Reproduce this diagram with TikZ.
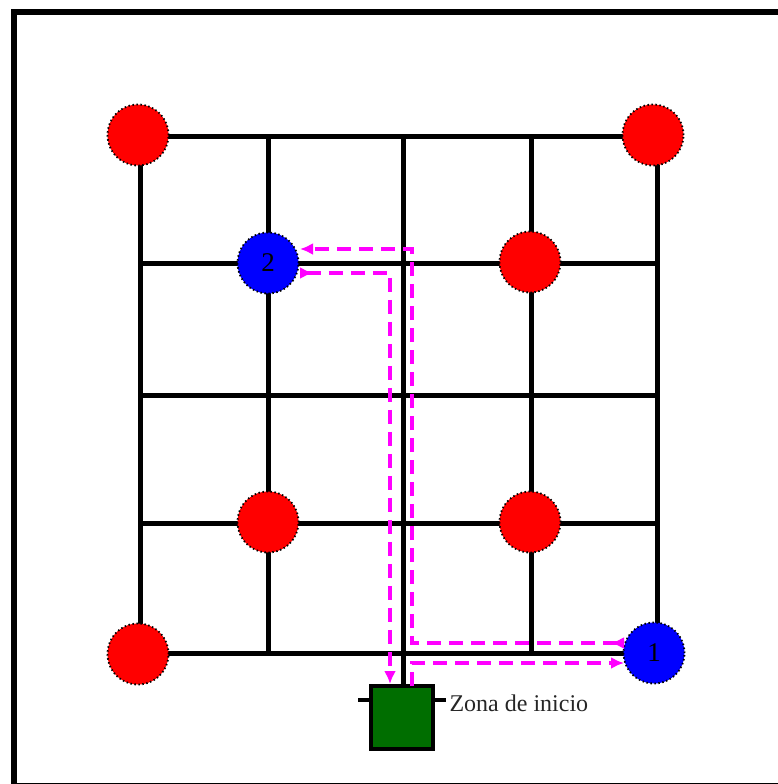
\documentclass[tikz,border=0pt]{standalone}
\usepackage{fontspec}
\setmainfont{Liberation Serif}
\usetikzlibrary{arrows.meta,calc}
\definecolor{routecol}{RGB}{255,0,255}
\definecolor{startcol}{RGB}{0,110,0}
\tikzset{
  gridline/.style={line width=5pt, black},
  spot/.style={circle, minimum size=61pt, inner sep=0pt, draw=black, line width=1.8pt, dash pattern=on 1.5pt off 2.5pt, font=\fontsize{27}{27}\selectfont},
  redspot/.style={spot, fill=red},
  bluespot/.style={spot, fill=blue},
  route/.style={routecol, line width=3.6pt, dash pattern=on 14pt off 8pt},
  endtip/.style={-{Latex[length=13pt,width=12pt]}},
  bothtip/.style={{Latex[length=13pt,width=12pt,reversed]}-{Latex[length=13pt,width=12pt]}},
}
\begin{document}
\begin{tikzpicture}[x=1pt,y=-1pt]
\useasboundingbox (0,0) rectangle (777,784);
% frame
\draw[line width=5.5pt] (14,12) rectangle (790,786);
% grid
\foreach \x in {140,268,403,531,657} \draw[gridline] (\x,136) -- (\x,653);
\foreach \y in {136,263,395,523,653} \draw[gridline] (140,\y) -- (657,\y);
% stem to start zone
\draw[gridline] (403,653) -- (403,686);
% start zone
\draw[line width=4pt] (358,700) -- (446,700);
\node[draw=black, line width=4pt, fill=startcol, minimum width=62pt, minimum height=63pt, inner sep=0pt] (start) at (402,717.5) {};
\node[anchor=west, font=\fontsize{24}{24}\selectfont, text=black!85] (label) at (446,703) {Zona de inicio};
% spots
\node[redspot] (r1) at (138,135) {};
\node[redspot] (r2) at (653,135) {};
\node[redspot] (r3) at (530,262) {};
\node[redspot] (r4) at (268,522) {};
\node[redspot] (r5) at (530,522) {};
\node[redspot] (r6) at (138,654) {};
\node[bluespot] (b2) at (268,263) {2};
\node[bluespot] (b1) at (654,653) {1};
% routes
\coordinate (p1a) at (412,686);
\coordinate (p1b) at (412,663);
\coordinate (p1c) at (624,663);
\draw[route, endtip] (p1a) -- (p1b) -- (p1c);
\coordinate (p2a) at (624,643);
\coordinate (p2b) at (412,643);
\coordinate (p2c) at (412,249);
\coordinate (p2d) at (300,249);
\draw[route, bothtip] (p2a) -- (p2b) -- (p2c) -- (p2d);
\coordinate (p3a) at (300,273);
\coordinate (p3b) at (390,273);
\coordinate (p3c) at (390,684);
\draw[route, bothtip] (p3a) -- (p3b) -- (p3c);
\end{tikzpicture}
\end{document}
